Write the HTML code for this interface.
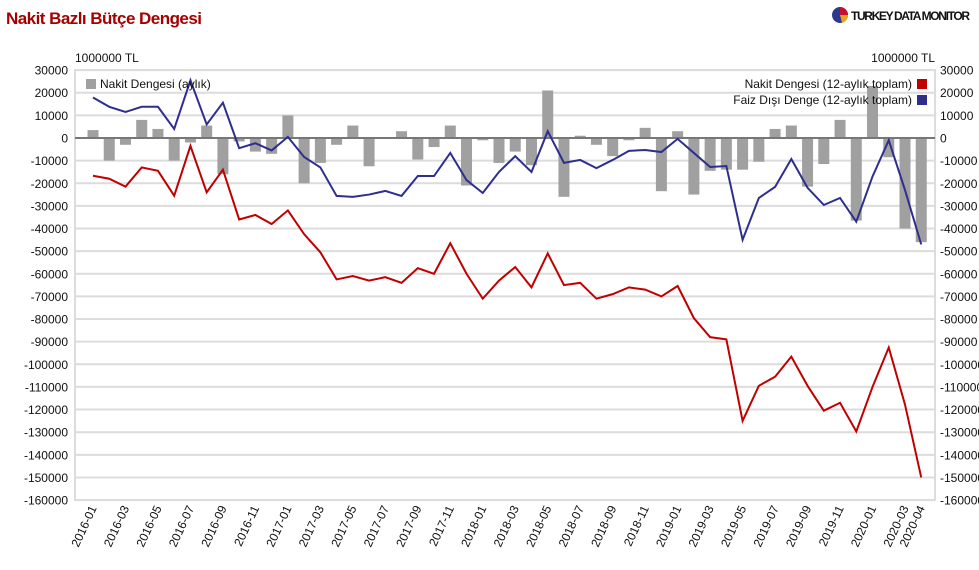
<!DOCTYPE html>
<html><head><meta charset="utf-8"><style>
html,body{margin:0;padding:0;background:#fff;width:979px;height:570px;overflow:hidden;font-family:"Liberation Sans",sans-serif}
</style></head><body>
<svg id="c" width="979" height="570" xmlns="http://www.w3.org/2000/svg" font-family="Liberation Sans, sans-serif"></svg>
<script>
const bars=[3.5,-10,-3,8,4,-10,-2,5.5,-16,-1.5,-6,-7,10,-20,-11,-3,5.5,-12.5,0,3,-9.5,-4,5.5,-21,-1,-11,-6,-12,21,-26,1,-3,-8,-1,4.5,-23.5,3,-25,-14.5,-14,-14,-10.5,4,5.5,-21.5,-11.5,8,-36.5,23,-8.5,-40,-46];
const red=[-16.7,-18,-21.5,-13,-14.5,-25.5,-3.5,-24,-14,-36,-34,-38,-32,-42.5,-50.5,-62.5,-61,-63,-61.5,-64,-57.5,-60,-46.5,-60,-71,-63,-57,-66,-51,-65,-64,-71,-69,-66,-67,-70,-65.4,-79.6,-88,-89,-125,-109.5,-105.5,-96.6,-109.5,-120.5,-117,-129.7,-110,-92.6,-117.8,-150];
const blue=[17.9,13.8,11.5,13.8,13.8,4,25.5,6,15.6,-4.5,-2.3,-5.5,0.5,-8.4,-13,-25.6,-26,-25,-23.4,-25.6,-16.8,-16.8,-6.6,-18.6,-24.3,-15,-8,-15,3,-11,-9.7,-13.3,-9.7,-5.7,-5.3,-6.2,-0.4,-6.6,-12.8,-12.4,-45,-26.5,-21.6,-9.3,-22,-29.6,-26.5,-37,-17,-1,-23,-47];
const X=i=>93+i*16.24, Y=v=>138-v*2.263;
let s='';
s+='<text x="6" y="24" font-size="17" font-weight="bold" fill="#a50000" textLength="196">Nakit Bazlı Bütçe Dengesi</text>';
// logo
s+='<circle cx="840" cy="15" r="8" fill="#2b3a8c"/><path d="M840 15 L840 7 A8 8 0 0 1 848 15 Z" fill="#c8102e"/><path d="M840 15 L848 15 A8 8 0 0 1 842 22.8 Z" fill="#e8a317"/>';
s+='<text x="851" y="20" font-size="12" font-weight="bold" fill="#111" textLength="119">TURKEY DATA MONITOR</text>';
s+='<text x="75" y="62" font-size="12" fill="#111">1000000 TL</text>';
s+='<text x="935" y="62" font-size="12" fill="#111" text-anchor="end">1000000 TL</text>';
for(let v=30;v>=-160;v-=10){const y=Y(v);
 s+=`<line x1="75" x2="935" y1="${y}" y2="${y}" stroke="#dcdcdc" stroke-width="2"/>`;
 const t=v===0?'0':String(v*1000);
 s+=`<text x="68" y="${y+4.5}" font-size="12" text-anchor="end" fill="#111">${t}</text>`;
 s+=`<text x="940" y="${y+4.5}" font-size="12" fill="#111">${t}</text>`;}
s+='<rect x="75" y="70" width="860" height="430" fill="none" stroke="#dcdcdc" stroke-width="2"/>';
bars.forEach((v,i)=>{const y0=Y(0),y1=Y(v);s+=`<rect x="${X(i)-5.5}" y="${Math.min(y0,y1)}" width="11" height="${Math.abs(y1-y0)}" fill="#a0a0a0"/>`;});
s+=`<line x1="75" x2="935" y1="${Y(0)}" y2="${Y(0)}" stroke="#777" stroke-width="2"/>`;
s+=`<polyline fill="none" stroke="#c00000" stroke-width="2" points="${red.map((v,i)=>X(i)+','+Y(v)).join(' ')}"/>`;
s+=`<polyline fill="none" stroke="#2e2e8f" stroke-width="2" points="${blue.map((v,i)=>X(i)+','+Y(v)).join(' ')}"/>`;
s+='<rect x="86" y="79" width="10" height="10" fill="#a0a0a0"/><text x="100" y="88" font-size="12" fill="#111">Nakit Dengesi (aylık)</text>';
s+='<text x="912" y="88" font-size="12" fill="#111" text-anchor="end">Nakit Dengesi (12-aylık toplam)</text><rect x="917" y="79" width="10" height="10" fill="#c00000"/>';
s+='<text x="912" y="104" font-size="12" fill="#111" text-anchor="end">Faiz Dışı Denge (12-aylık toplam)</text><rect x="917" y="95" width="10" height="10" fill="#2e2e8f"/>';
const lab=[];for(let i=0;i<52;i+=2)lab.push(i);lab.push(51);
lab.forEach(i=>{const y=2016+Math.floor(i/12),m=String(i%12+1).padStart(2,'0');const x=X(i)+4,yy=508;
 s+=`<text transform="translate(${x},${yy}) rotate(-65)" font-size="12" text-anchor="end" fill="#111">${y}-${m}</text>`;});
document.getElementById('c').innerHTML=s;
</script>
</body></html>
